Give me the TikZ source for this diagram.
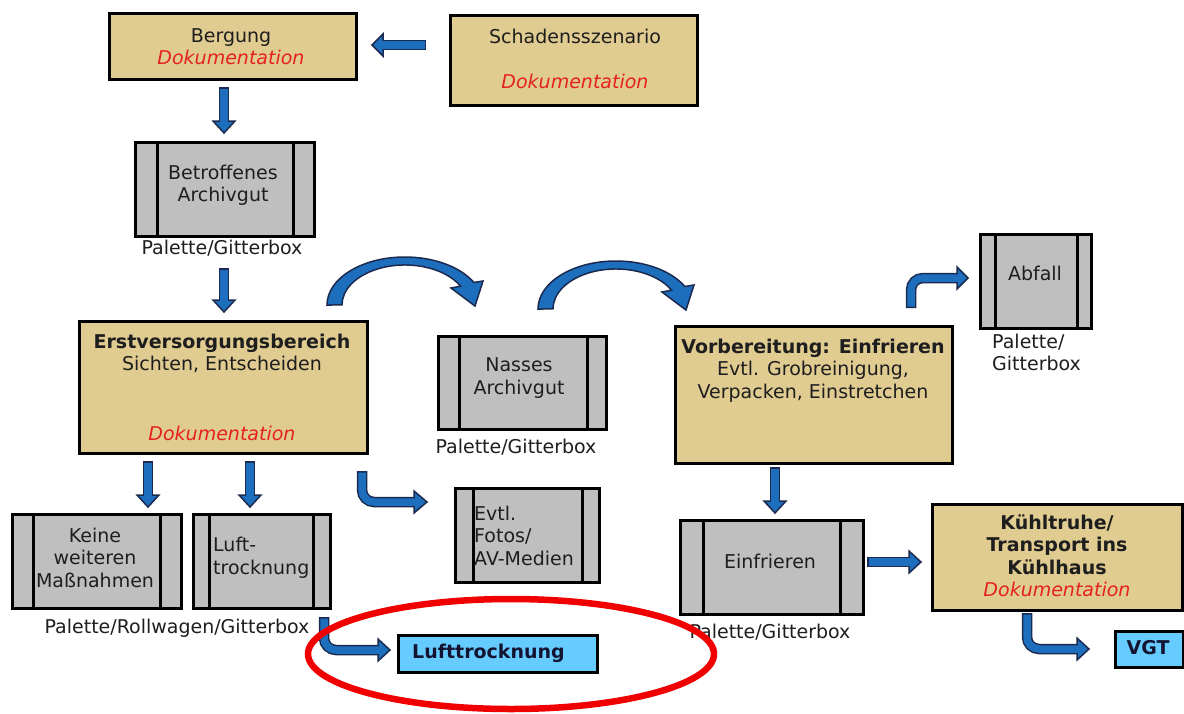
\documentclass[tikz,border=0pt]{standalone}
\usepackage{fontspec}
\setmainfont{DejaVu Sans}
\usetikzlibrary{calc,shapes.geometric}
\definecolor{boxtan}{HTML}{E0CB91}
\definecolor{boxgray}{HTML}{BFBFBF}
\definecolor{arrblue}{HTML}{1D6FBE}
\definecolor{arrnavy}{HTML}{1B2A4E}
\definecolor{lblue}{HTML}{66CCFF}
\definecolor{docred}{HTML}{E5211F}
\definecolor{ringred}{HTML}{F00000}
\definecolor{textdark}{HTML}{1E1E1E}
\definecolor{navytext}{HTML}{141432}
\tikzset{
 stripl/.store in=\stripl, stripr/.store in=\stripr, stripl=20, stripr=20,
 tanbox/.style={draw=black, line width=3pt, fill=boxtan, inner sep=0pt},
 graybox/.style={draw=black, line width=3pt, fill=boxgray, inner sep=0pt,
   path picture={
     \draw[line width=3pt,black] ([xshift=\stripl pt]path picture bounding box.north west) -- ([xshift=\stripl pt]path picture bounding box.south west);
     \draw[line width=3pt,black] ([xshift=-\stripr pt]path picture bounding box.north east) -- ([xshift=-\stripr pt]path picture bounding box.south east);}},
 bluebox/.style={draw=black, line width=2.5pt, fill=lblue, inner sep=0pt},
 txt/.style={inner sep=0pt, text=textdark, align=center},
 doc/.style={inner sep=0pt, text=docred, font=\fontsize{19}{22.5}\selectfont\itshape},
 shaftout/.style={draw=arrnavy, line width=10.5pt},
 shaftin/.style={draw=arrblue, line width=7.5pt, shorten <=1.5pt, shorten >=-2pt},
 headfill/.style={fill=arrblue, draw=arrnavy, line width=1.5pt, line join=miter},
 bandarr/.style={fill=arrblue, draw=arrnavy, line width=1.5pt},
}
\newcommand\boxat[6]{\node[#1, anchor=north west, minimum width={(#5)-(#3)}, minimum height={(#6)-(#4)}] (#2) at (#3,#4) {};}
\newcommand\arrowhd[2]{\coordinate (hdb) at (#1); \coordinate (hdt) at (#2);
 \filldraw[headfill] ($(hdb)!11pt!90:(hdt)$) -- (hdt) -- ($(hdb)!11pt!-90:(hdt)$) -- cycle;}
\newcommand\straightarr[3]{\arrowhd{#2}{#3}\draw[shaftout] (#1) -- (#2); \draw[shaftin] (#1) -- (#2);}
\newcommand\bentarr[3]{\arrowhd{#2}{#3}\draw[shaftout, rounded corners=12pt] (#1) |- (#2); \draw[shaftin, rounded corners=12pt] (#1) |- (#2);}
\begin{document}
\begin{tikzpicture}[x=1pt,y=-1pt,font=\fontsize{19}{22.5}\selectfont]
\fill[white] (0,0) rectangle (1184,713);
\useasboundingbox (0,0) rectangle (1184,713);

% boxes
\boxat{tanbox}{bergung}{108}{12}{355}{78}
\boxat{tanbox}{schaden}{449}{14}{696}{104}
\boxat{graybox, stripl=22, stripr=21}{betroffen}{134}{141}{313}{235}
\boxat{tanbox}{erst}{78}{320}{366}{452}
\boxat{graybox, stripl=21, stripr=19}{nasses}{437}{335}{605}{428}
\boxat{tanbox}{vorb}{674}{325}{951}{462}
\boxat{graybox, stripl=15, stripr=14}{abfall}{979}{233}{1090}{327}
\boxat{graybox, stripl=21, stripr=21}{keine}{11}{513}{180}{607}
\boxat{graybox, stripl=16, stripr=17}{luft}{192}{513}{329}{607}
\boxat{graybox, stripl=18, stripr=17}{fotos}{454}{487}{598}{581}
\boxat{graybox, stripl=23, stripr=23}{einfr}{679}{519}{862}{613}
\boxat{tanbox}{kuehl}{931}{503}{1181}{609}
\boxat{bluebox}{lufttr}{397}{634}{596}{671}
\boxat{bluebox}{vgt}{1114}{630}{1182}{666}

% texts
\node[txt] (tberg) at (231,46.5) {Bergung\\\textcolor{docred}{\itshape Dokumentation}};
\node[txt] (tsch) at (575,36) {Schadensszenario};
\node[doc] (tschdoc) at (575,81) {Dokumentation};
\node[txt] (tbetr) at (223,185.5) {Betroffenes\\Archivgut};
\node[txt] (lbetr) at (222,248) {Palette/Gitterbox};
\node[txt] (terst) at (222,353.5) {\bfseries Erstversorgungsbereich\\Sichten, Entscheiden};
\node[doc] (terstdoc) at (222,433) {Dokumentation};
\node[txt] (tnass) at (519,378) {Nasses\\Archivgut};
\node[txt] (lnass) at (516,447) {Palette/Gitterbox};
\node[txt] (tvorb) at (813,370.5) {{\bfseries Vorbereitung: Einfrieren}\\Evtl. Grobreinigung,\\Verpacken, Einstretchen};
\node[txt] (tabf) at (1035,273) {Abfall};
\node[txt, align=left, anchor=west] (labf) at (992,352.5) {Palette/\\Gitterbox};
\node[txt] (tkeine) at (95,557.5) {Keine\\weiteren\\Maßnahmen};
\node[txt, align=left, anchor=west] (tluft) at (213,557.5) {Luft-\\trocknung};
\node[txt] (lkeine) at (177,628) {Palette/Rollwagen/Gitterbox};
\node[txt, align=left, anchor=west] (tfotos) at (474,535.5) {Evtl.\\Fotos/\\AV-Medien};
\node[txt] (teinf) at (770,561) {Einfrieren};
\node[txt] (leinf) at (770,632) {Palette/Gitterbox};
\node[txt] (tkuehl) at (1057,556) {\bfseries Kühltruhe/\\\bfseries Transport ins\\\bfseries Kühlhaus\\\textcolor{docred}{\itshape Dokumentation}};
\node[txt, anchor=west, text=navytext, font=\fontsize{19}{22.5}\selectfont\bfseries] (tlufttr) at (412,653) {Lufttrocknung};
\node[txt, text=navytext, font=\fontsize{19}{22.5}\selectfont\bfseries] (tvgt) at (1148,648) {VGT};

% straight arrows
\straightarr{426,45}{383,45}{372,45}
\straightarr{224,87}{224,121}{224,133}
\straightarr{224,268}{224,300}{224,312}
\straightarr{148,461}{148,495}{148,507}
\straightarr{250,461}{250,495}{250,507}
\straightarr{775,467}{775,501}{775,513}
\straightarr{867,562}{909,562}{921,562}

% bent arrows
\bentarr{362,471}{414,502}{427,502}
\bentarr{324,617}{378,650}{390,650}
\bentarr{1027,613}{1077,649}{1089,649}
\bentarr{911,308}{957,278}{968,278}

% curved arrows
\filldraw[bandarr] (327,305) arc[start angle=180, end angle=332, x radius=78, y radius=48]
  -- (483,281) -- (475,306) -- (451,288) -- (460.6,286.2)
  arc[start angle=332, end angle=180, x radius=63, y radius=40] -- cycle;
\begin{scope}[shift={(211,4)}]
\filldraw[bandarr] (327,305) arc[start angle=180, end angle=332, x radius=78, y radius=48]
  -- (483,281) -- (475,306) -- (451,288) -- (460.6,286.2)
  arc[start angle=332, end angle=180, x radius=63, y radius=40] -- cycle;
\end{scope}

% red ring
\node[ellipse, draw=ringred, line width=6.5pt, minimum width=406pt, minimum height=110pt, inner sep=0pt] (ring) at (511,654) {};
\end{tikzpicture}
\end{document}
